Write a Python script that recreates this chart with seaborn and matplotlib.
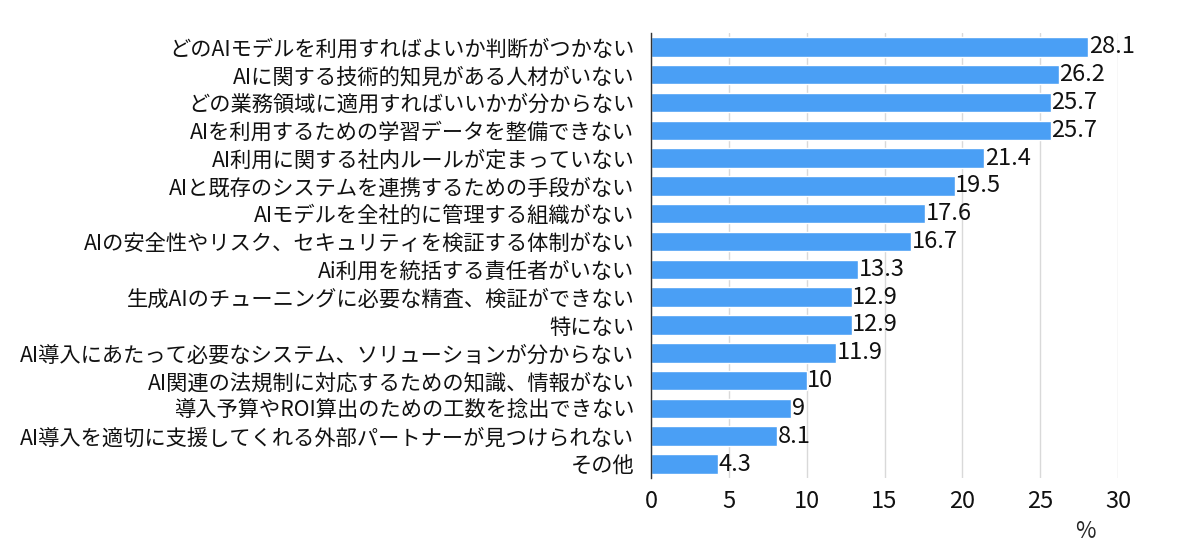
import matplotlib
matplotlib.use("Agg")
import matplotlib.pyplot as plt
import seaborn as sns
import pandas as pd

categories = [
    "どのAIモデルを利用すればよいか判断がつかない",
    "AIに関する技術的知見がある人材がいない",
    "どの業務領域に適用すればいいかが分からない",
    "AIを利用するための学習データを整備できない",
    "AI利用に関する社内ルールが定まっていない",
    "AIと既存のシステムを連携するための手段がない",
    "AIモデルを全社的に管理する組織がない",
    "AIの安全性やリスク、セキュリティを検証する体制がない",
    "Ai利用を統括する責任者がいない",
    "生成AIのチューニングに必要な精査、検証ができない",
    "特にない",
    "AI導入にあたって必要なシステム、ソリューションが分からない",
    "AI関連の法規制に対応するための知識、情報がない",
    "導入予算やROI算出のための工数を捻出できない",
    "AI導入を適切に支援してくれる外部パートナーが見つけられない",
    "その他",
]
values = [28.1, 26.2, 25.7, 25.7, 21.4, 19.5, 17.6, 16.7, 13.3, 12.9, 12.9, 11.9, 10, 9, 8.1, 4.3]
x_ticks = [0, 5, 10, 15, 20, 25, 30]

df = pd.DataFrame({"item": categories, "pct": values})

sns.set_style("white")
plt.rcParams["font.family"] = ["Noto Sans CJK JP", "DejaVu Sans"]

fig = plt.figure(figsize=(12, 5.59), dpi=100)
ax = fig.add_axes([0.5425, 0.145, 0.3892, 0.796])

sns.barplot(data=df, x="pct", y="item", orient="h", color="#4a9ff5",
            width=0.7, saturation=1, ax=ax)

# value labels at bar ends
for i, v in enumerate(values):
    ax.text(v + 0.03, i, f"{v:g}", va="center", ha="left", fontsize=17, color="#111111")

ax.set_xlim(0, 30)
ax.set_xticks(x_ticks)
ax.set_xticklabels([str(t) for t in x_ticks], fontsize=17)
ax.tick_params(axis="y", labelsize=15.3, length=0, pad=12, labelcolor="#111111")
ax.tick_params(axis="x", length=0, pad=9, labelcolor="#111111")
ax.xaxis.grid(True, color="#d9d9d9", linewidth=1)
ax.set_axisbelow(True)
ax.set_ylabel("")
ax.set_xlabel("")
for s in ["top", "right", "bottom"]:
    ax.spines[s].set_visible(False)
ax.spines["left"].set_color("#333333")
ax.spines["left"].set_linewidth(1)

fig.text(1085 / 1200, 1 - 531 / 559, "%", ha="center", va="center", fontsize=16)

fig.savefig("out.png", dpi=100)
